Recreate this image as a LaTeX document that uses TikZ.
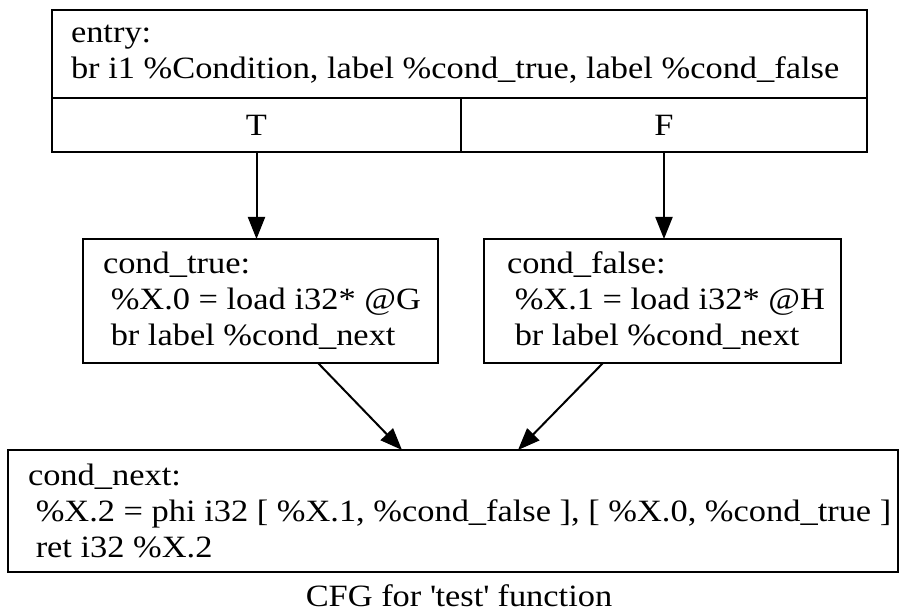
\documentclass[tikz,border=0pt]{standalone}
\usepackage{fontspec}
\setmainfont{Liberation Serif}[FakeStretch=1.11]
\usetikzlibrary{arrows.meta}
\newcommand\indentsp{\hspace*{0.25em}}
\begin{document}
\begin{tikzpicture}[x=1pt, y=-1pt,
  every node/.style={inner sep=0pt, outer sep=0pt},
  blk/.style={draw, line width=1pt, rectangle, font=\fontsize{15.5}{18}\selectfont},
  txt/.style={font=\fontsize{15.5}{18}\selectfont, align=left, anchor=west},
  edge/.style={line width=1pt, -{Triangle[length=11pt,width=8.5pt]}}
]
\useasboundingbox (0,0) rectangle (450,306.5);

% entry block: header row and the two branch ports
\node[blk, minimum width=407.5pt, minimum height=44pt] (entry) at (229.75,27) {};
\node[blk, minimum width=204.5pt, minimum height=27pt] (entT) at (128.25,62.5) {T};
\node[blk, minimum width=203pt, minimum height=27pt] (entF) at (332,62.5) {F};
\node[txt] (entryText) at (35.5,27)
  {entry:\\br i1 \%Condition, label \%cond\_true, label \%cond\_false};

% successor blocks
\node[blk, minimum width=177.5pt, minimum height=62pt] (ctrue) at (130.25,150.5) {};
\node[txt] (ctrueText) at (51.5,150.5)
  {cond\_true:\\\indentsp\%X.0 = load i32* @G\\\indentsp br label \%cond\_next};

\node[blk, minimum width=178.5pt, minimum height=62pt] (cfalse) at (331.25,150.5) {};
\node[txt] (cfalseText) at (253.5,150.5)
  {cond\_false:\\\indentsp\%X.1 = load i32* @H\\\indentsp br label \%cond\_next};

\node[blk, minimum width=445pt, minimum height=61pt] (cnext) at (226.5,255.5) {};
\node[txt] (cnextText) at (14,255.5)
  {cond\_next:\\\indentsp\%X.2 = phi i32 [ \%X.1, \%cond\_false ], [ \%X.0, \%cond\_true ]\\\indentsp ret i32 \%X.2};

% caption
\node[font=\fontsize{15.5}{18}\selectfont, anchor=base] (caption) at (229.5,303.5)
  {CFG for \textquotesingle test\textquotesingle\ function};

% control-flow edges
\draw[edge] (entT.south) -- (entT.south |- ctrue.north);
\draw[edge] (entF.south) -- (entF.south |- cfalse.north);
\draw[edge] ([xshift=28.75pt]ctrue.south) -- ([xshift=-25.5pt]cnext.north);
\draw[edge] ([xshift=-29.75pt]cfalse.south) -- ([xshift=32.5pt]cnext.north);
\end{tikzpicture}
\end{document}
